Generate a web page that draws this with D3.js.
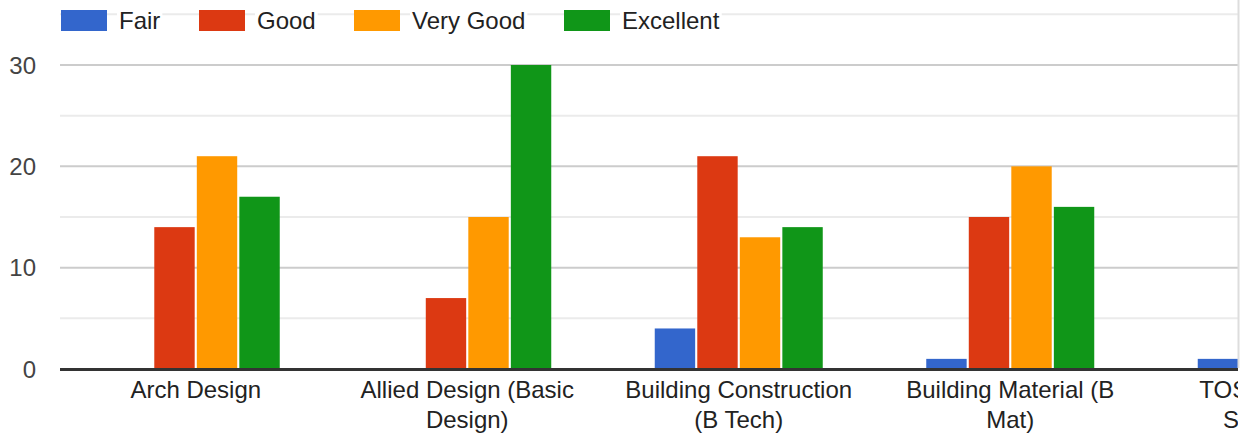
<!DOCTYPE html>
<html>
<head>
<meta charset="utf-8">
<script src="https://cdn.jsdelivr.net/npm/d3@7/dist/d3.min.js"></script>
<style>
  html, body { margin: 0; padding: 0; background: #fff; }
  svg { display: block; font-family: "Liberation Sans", Arial, sans-serif; }
</style>
</head>
<body>
<svg id="chart" width="1241" height="435"></svg>
<script>
const categories = ["Arch Design", "Allied Design (Basic Design)", "Building Construction (B Tech)", "Building Material (B Mat)", "TOS (Theory of Structures)"];
const seriesNames = ["Fair", "Good", "Very Good", "Excellent"];
const colors = ["#3366cc", "#dc3912", "#ff9900", "#109618"];
const fair      = [0, 0, 4, 1, 1];
const good      = [14, 7, 21, 15, 12];
const veryGood  = [21, 15, 13, 20, 18];
const excellent = [17, 30, 14, 16, 15];
const majorTicks = [0, 10, 20, 30];
const minorTicks = [5, 15, 25, 35];

const seriesValues = [fair, good, veryGood, excellent];
const data = categories.map((c, i) => ({ cat: c, vals: seriesValues.map((s, k) => ({ name: seriesNames[k], v: s[i], k })) }));

const W = 1241, H = 435;
const plotLeft = 60, plotRight = 1238;
const svg = d3.select("#chart");

const x = d3.scaleBand().domain(categories).range([plotLeft, plotLeft + 5 * 271.5]).paddingInner(0).paddingOuter(0);
const groupW = 168;
const xs = d3.scaleBand().domain(seriesNames).range([0, groupW]).paddingInner(0.05).paddingOuter(0);
const y = d3.scaleLinear().domain([0, 40]).range([369, 369 - 40 * 10.133]);

svg.append("defs").append("clipPath").attr("id", "clip")
  .append("rect").attr("x", plotLeft).attr("y", 0).attr("width", plotRight - plotLeft).attr("height", H);

const plot = svg.append("g").attr("clip-path", "url(#clip)");

// gridlines
plot.selectAll("line.minor").data(minorTicks).join("line")
  .attr("x1", plotLeft).attr("x2", plotRight)
  .attr("y1", d => y(d)).attr("y2", d => y(d))
  .attr("stroke", "#ebebeb").attr("stroke-width", 2);
plot.selectAll("line.major").data(majorTicks.filter(d => d !== 0)).join("line")
  .attr("x1", plotLeft).attr("x2", plotRight)
  .attr("y1", d => y(d)).attr("y2", d => y(d))
  .attr("stroke", "#cccccc").attr("stroke-width", 2);

// bars
const groups = plot.selectAll("g.grp").data(data).join("g")
  .attr("transform", d => `translate(${x(d.cat) + x.bandwidth() / 2 - groupW / 2},0)`);
groups.selectAll("rect").data(d => d.vals.filter(v => v.v > 0)).join("rect")
  .attr("x", d => xs(d.name))
  .attr("width", xs.bandwidth())
  .attr("y", d => y(d.v))
  .attr("height", d => y(0) - y(d.v))
  .attr("fill", d => colors[d.k]);

// axis baseline
plot.append("line").attr("x1", plotLeft).attr("x2", plotRight)
  .attr("y1", y(0) + 0.5).attr("y2", y(0) + 0.5)
  .attr("stroke", "#333333").attr("stroke-width", 3);

// right border
svg.append("line").attr("x1", 1238.5).attr("x2", 1238.5).attr("y1", 0).attr("y2", 368)
  .attr("stroke", "#dddddd").attr("stroke-width", 2);

// y tick labels
svg.selectAll("text.ytick").data(majorTicks).join("text")
  .attr("class", "ytick")
  .attr("x", 36).attr("y", d => y(d) + 8.5)
  .attr("text-anchor", "end")
  .attr("font-size", 24).attr("fill", "#444444")
  .text(d => d);

// x labels with wrapping
const labG = plot.append("g");
categories.forEach(c => {
  const cx = x(c) + x.bandwidth() / 2;
  const t = labG.append("text").attr("text-anchor", "middle").attr("font-size", 24).attr("fill", "#222222");
  const words = c.split(" ");
  let lines = [], cur = [];
  const probe = svg.append("text").attr("font-size", 24);
  words.forEach(w => {
    const test = cur.concat([w]).join(" ");
    probe.text(test);
    if (probe.node().getComputedTextLength() > 240 && cur.length) {
      lines.push(cur.join(" "));
      cur = [w];
    } else cur.push(w);
  });
  lines.push(cur.join(" "));
  probe.remove();
  lines.forEach((ln, i) => {
    t.append("tspan").attr("x", cx).attr("y", 398 + i * 29.5).text(ln);
  });
});

// legend
const legendX = [61, 199, 354, 564];
const leg = svg.append("g");
seriesNames.forEach((s, i) => {
  const g = leg.append("g");
  g.append("rect").attr("x", legendX[i]).attr("y", 10).attr("width", 46).attr("height", 21).attr("fill", colors[i]);
  const bg = g.append("rect").attr("fill", "#ffffff");
  const t = g.append("text").attr("x", legendX[i] + 58).attr("y", 29).attr("font-size", 24).attr("fill", "#222222").text(s);
  const bb = t.node().getBBox();
  bg.attr("x", bb.x - 2).attr("y", bb.y).attr("width", bb.width + 4).attr("height", bb.height);
});
</script>
</body>
</html>
